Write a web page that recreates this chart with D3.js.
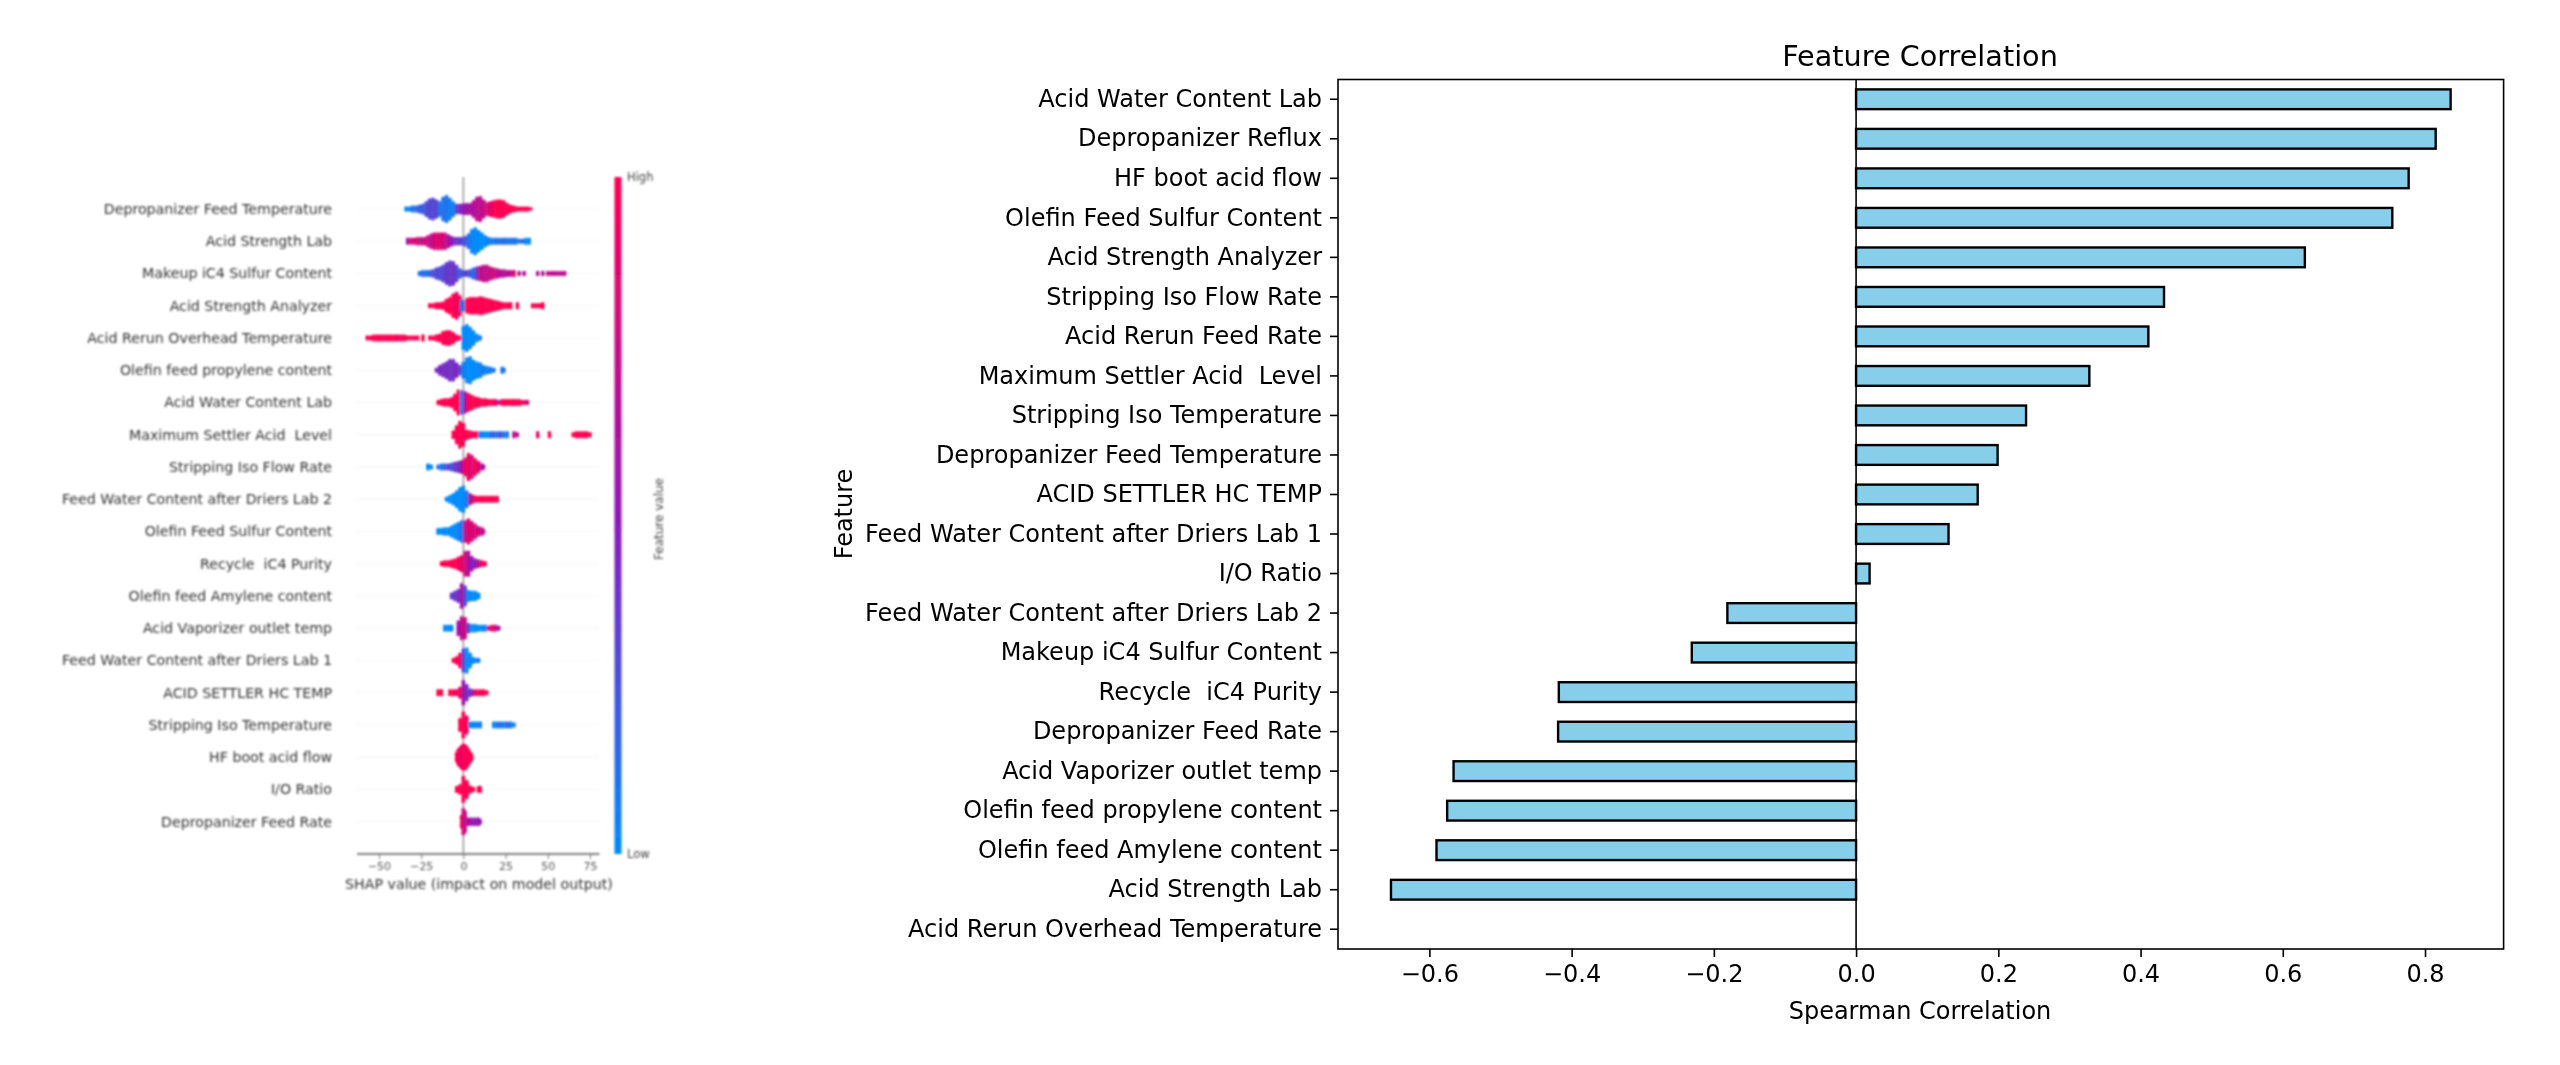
<!DOCTYPE html>
<html><head><meta charset="utf-8">
<script src="https://cdn.jsdelivr.net/npm/d3@7"></script>
<style>html,body{margin:0;background:#fff}svg{display:block}text{font-family:"DejaVu Sans",sans-serif;white-space:pre}</style>
</head><body><svg id="c" width="2560" height="1065"></svg>
<script>
// ---- Right chart data ----
const corrFeatures = ["Acid Water Content Lab","Depropanizer Reflux","HF boot acid flow","Olefin Feed Sulfur Content","Acid Strength Analyzer","Stripping Iso Flow Rate","Acid Rerun Feed Rate","Maximum Settler Acid  Level","Stripping Iso Temperature","Depropanizer Feed Temperature","ACID SETTLER HC TEMP","Feed Water Content after Driers Lab 1","I/O Ratio","Feed Water Content after Driers Lab 2","Makeup iC4 Sulfur Content","Recycle  iC4 Purity","Depropanizer Feed Rate","Acid Vaporizer outlet temp","Olefin feed propylene content","Olefin feed Amylene content","Acid Strength Lab","Acid Rerun Overhead Temperature"];
const corrValues = [0.836,0.815,0.777,0.754,0.631,0.433,0.411,0.328,0.239,0.199,0.171,0.130,0.019,-0.181,-0.231,-0.418,-0.419,-0.566,-0.575,-0.590,-0.654,0];
const corrTicks = [-0.6,-0.4,-0.2,0,0.2,0.4,0.6,0.8];

// ---- Left chart data: each entry is [SHAP value, stacked dots, feature value] ----
const shapFeatures = ["Depropanizer Feed Temperature","Acid Strength Lab","Makeup iC4 Sulfur Content","Acid Strength Analyzer","Acid Rerun Overhead Temperature","Olefin feed propylene content","Acid Water Content Lab","Maximum Settler Acid  Level","Stripping Iso Flow Rate","Feed Water Content after Driers Lab 2","Olefin Feed Sulfur Content","Recycle  iC4 Purity","Olefin feed Amylene content","Acid Vaporizer outlet temp","Feed Water Content after Driers Lab 1","ACID SETTLER HC TEMP","Stripping Iso Temperature","HF boot acid flow","I/O Ratio","Depropanizer Feed Rate"];
const shapTicks = [-50,-25,0,25,50,75];
const binsDepropTemp = [[-34,2,0],[-32,2,.05],[-30,3,.1],[-28,3,.15],[-26,4,.2],[-24,5,.2],[-22,8,.25],[-20,11,.3],[-18,12,.3],[-16,10,.3],[-14,8,.1],[-12,13,.1],[-10,15,.1],[-8,12,.05],[-6,8,.05],[-4,5,.3],[-2,5,.45],[0,6,.5],[2,6,.6],[4,6,.6],[6,9,.65],[8,13,.7],[10,14,.7],[12,10,.75],[14,7,.8],[16,8,.9],[18,9,.95],[20,10,1],[22,10,1],[24,9,1],[26,6,1],[28,4,1],[30,3,1],[32,2,1],[34,2,1],[36,2,1],[38,2,1],[40,1,1]];
const binsStrengthLab = [[-33,3,.6],[-31,3,.8],[-29,3,.85],[-27,4,.8],[-25,4,.7],[-23,4,.8],[-21,6,.75],[-19,8,.7],[-17,9,.85],[-15,9,.85],[-13,9,.85],[-11,9,.75],[-9,7,.65],[-7,5,.5],[-5,4,.4],[-3,4,.35],[-1,4,.3],[1,5,.25],[3,8,.1],[5,13,.05],[7,15,0],[9,12,0],[11,9,0],[13,6,0],[15,4,.05],[17,3,.05],[19,3,.1],[21,3,.1],[23,3,.15],[25,3,.1],[27,3,.1],[29,3,.1],[31,3,.1],[33,2,.1],[35,2,.15],[37,3,0],[39,3,0]];
const binsMakeup = [[-26,2,.1],[-24,3,.15],[-22,3,.1],[-20,3,.2],[-18,4,.25],[-16,6,.3],[-14,7,.25],[-12,9,.3],[-10,12,.35],[-8,14,.35],[-6,13,.4],[-4,9,.3],[-2,5,.2],[0,3,.3],[2,3,.3],[4,4,.2],[6,6,.15],[8,7,.4],[10,8,.7],[12,9,.75],[14,9,.7],[16,7,.75],[18,6,.8],[20,5,.7],[22,4,.65],[24,4,.7],[26,3,.65],[28,3,.7],[30,3,.85],[33,2,.7],[36,2,.65],[44,2,.7],[47,2,.6],[50,2,.75],[52,2,.7],[54,2,.7],[56,2,.7],[58,2,.7],[60,2,.7]];
const binsAnalyzer = [[-20,2,1],[-18,2,1],[-16,3,1],[-14,3,1],[-12,4,1],[-10,7,1],[-8,9,1],[-6,13,1],[-4,15,.95],[-2,11,.9],[-1,6,.2],[0,5,.1],[2,8,1],[4,9,1],[6,9,1],[8,9,1],[10,10,1],[12,9,1],[14,8,1],[16,7,1],[18,6,1],[20,5,1],[22,4,1],[24,3,1],[26,3,1],[28,3,1],[32,3,1],[41,2,1],[43,2,1],[45,2,1],[47,3,1]];
const binsRerunOverhead = [[-57,2,1],[-55,2,1],[-53,3,.95],[-51,3,1],[-49,3,1],[-47,3,.95],[-45,3,1],[-43,3,1],[-41,3,1],[-39,3,.95],[-37,3,1],[-35,3,1],[-33,2,1],[-31,2,1],[-29,2,.95],[-27,2,1],[-24,3,1],[-20,2,1],[-18,2,1],[-16,3,1],[-14,4,1],[-12,7,1],[-10,8,1],[-8,8,1],[-6,6,1],[-4,3,1],[-2,2,1],[0,13,0],[2,15,0],[4,12,0],[6,8,0],[8,4,0],[10,2,.1]];
const binsPropylene = [[-16,2,.4],[-14,5,.45],[-12,7,.4],[-10,9,.4],[-8,12,.4],[-6,12,.4],[-4,8,.45],[-2,5,.3],[0,9,.05],[2,14,0],[4,15,0],[6,11,0],[8,9,0],[10,8,.05],[12,5,.05],[14,4,.05],[16,3,.05],[18,2,.1],[23,3,.1],[24,2,.1]];
const binsWaterLab = [[-15,2,1],[-13,3,1],[-11,4,1],[-9,4,1],[-7,5,1],[-5,9,1],[-3,14,1],[-1,13,.1],[1,12,.6],[3,10,1],[5,8,1],[7,6,1],[9,5,1],[11,4,1],[13,4,1],[15,3,1],[17,3,1],[19,3,.9],[21,2,.7],[23,3,1],[25,3,1],[27,3,1],[29,3,1],[31,3,1],[33,3,1],[35,2,1],[37,2,.9],[38,2,.8]];
const binsSettlerLevel = [[-6,4,1],[-4,10,1],[-2,15,1],[0,13,1],[2,5,1],[4,4,1],[6,3,1],[8,3,1],[10,3,.05],[12,3,0],[14,3,0],[16,3,.1],[18,3,.2],[20,3,.1],[22,3,.3],[24,3,.1],[26,3,.05],[30,3,.7],[32,2,.7],[44,3,.9],[51,3,.95],[65,2,1],[67,3,1],[69,3,1],[71,3,1],[73,3,1],[75,2,1]];
const binsStripFlow = [[-21,3,0],[-19,2,0],[-15,2,.1],[-13,3,.1],[-11,3,.2],[-9,3,.3],[-7,4,.25],[-5,5,.35],[-3,6,.4],[-1,7,.6],[1,10,.9],[3,15,.95],[5,13,.8],[7,9,1],[9,6,.85],[11,3,.7],[12,2,.6]];
const binsWater2 = [[-10,2,0],[-8,4,0],[-6,6,0],[-4,9,0],[-2,13,0],[0,15,0],[2,9,.1],[4,6,.6],[6,4,.8],[8,3,1],[10,3,1],[12,3,1],[14,3,1],[16,3,1],[18,3,1],[20,3,1]];
const binsOlefinSulfur = [[-15,3,0],[-13,3,0],[-11,4,0],[-9,4,0],[-7,6,0],[-5,8,0],[-3,10,.05],[-1,12,.1],[1,12,.7],[3,14,.85],[5,11,.85],[7,8,.8],[9,5,.85],[11,4,.7],[12,2,.7]];
const binsRecycle = [[-13,2,1],[-11,3,1],[-9,3,1],[-7,4,1],[-5,5,1],[-3,7,.95],[-1,9,.9],[1,14,.8],[3,14,.6],[5,8,.5],[7,5,.5],[9,4,.7],[11,3,.95],[13,2,1]];
const binsAmylene = [[-7,3,.35],[-5,5,.35],[-3,7,.4],[-1,14,.6],[1,11,.3],[3,6,0],[5,5,0],[7,5,0],[9,3,0]];
const binsVaporizer = [[-11,3,0],[-9,3,0],[-7,3,0],[-3,8,.6],[-1,13,.7],[1,12,.75],[3,5,.3],[5,4,0],[7,4,0],[9,3,0],[11,3,0],[13,3,.05],[15,2,.7],[17,3,1],[19,3,.7],[21,2,.6]];
const binsWater1 = [[-6,2,1],[-4,4,1],[-2,8,.95],[0,13,.3],[2,14,0],[4,8,0],[6,3,0],[8,2,.05],[9,2,.05]];
const binsSettlerTemp = [[-15,3,1],[-13,3,1],[-8,3,1],[-6,3,1],[-4,3,1],[-2,6,.9],[0,14,.6],[2,9,.4],[4,4,.4],[6,3,.7],[8,3,1],[10,3,1],[12,3,1],[14,2,1]];
const binsStripTemp = [[-2,7,1],[0,15,1],[2,10,.95],[4,3,.05],[6,3,0],[8,3,.05],[10,3,.05],[18,3,0],[20,3,.1],[22,3,.1],[24,3,.05],[26,3,.15],[28,3,.05],[30,2,.05]];
const binsHfBoot = [[-4,5,1],[-3,9,1],[-2,11,.95],[-1,13,.9],[0,15,.95],[1,14,1],[2,12,.95],[3,9,1],[4,6,1],[5,3,1]];
const binsIoRatio = [[-4,3,1],[-2,5,1],[0,15,1],[2,10,1],[4,4,1],[6,2,1],[9,3,1],[10,3,1]];
const binsFeedRate = [[-1,7,1],[0,15,.8],[1,12,.75],[3,4,.6],[5,4,.55],[7,4,.55],[9,4,.55],[10,2,.5]];
const shapBins = [binsDepropTemp,binsStrengthLab,binsMakeup,binsAnalyzer,binsRerunOverhead,binsPropylene,binsWaterLab,binsSettlerLevel,binsStripFlow,binsWater2,binsOlefinSulfur,binsRecycle,binsAmylene,binsVaporizer,binsWater1,binsSettlerTemp,binsStripTemp,binsHfBoot,binsIoRatio,binsFeedRate];

const svg = d3.select("#c");
const defs = svg.append("defs");
defs.append("filter").attr("id","blurL").attr("x","-5%").attr("y","-5%").attr("width","110%").attr("height","110%")
  .append("feGaussianBlur").attr("stdDeviation",1.25);
defs.append("filter").attr("id","blurR").attr("x","-5%").attr("y","-5%").attr("width","110%").attr("height","110%")
  .append("feGaussianBlur").attr("stdDeviation",0.5);

// ---- Left: SHAP beeswarm ----
const L = svg.append("g").attr("filter","url(#blurL)");
const sx = d3.scaleLinear().domain([-50,75]).range([379,590]);
const sy = d3.scalePoint().domain(shapFeatures).range([209,821.7]);
const color = d3.scaleLinear().domain([0,.5,1]).range(["#008bfb","#8f17b8","#ff0051"]);
L.selectAll("line.grid").data(shapFeatures).join("line").attr("class","grid")
  .attr("x1",357).attr("x2",599.5).attr("y1",d=>sy(d)).attr("y2",d=>sy(d))
  .attr("stroke","#ccc").attr("stroke-width",.7).attr("stroke-dasharray","1 2").attr("opacity",.6);
L.append("line").attr("x1",sx(0)).attr("x2",sx(0)).attr("y1",177).attr("y2",854).attr("stroke","#999").attr("stroke-width",1.6);
const step = 1.75;
shapFeatures.forEach((f,i)=>{
  const dots = shapBins[i].flatMap(([v,n,c])=>d3.range(n).map(k=>({v,c,o:(k-(n-1)/2)*step})));
  L.append("g").selectAll("circle").data(dots).join("circle")
    .attr("cx",d=>sx(d.v)).attr("cy",d=>sy(f)+d.o).attr("r",1.9).attr("fill",d=>color(d.c));
});
L.selectAll("text.lab").data(shapFeatures).join("text").attr("class","lab")
  .attr("x",332).attr("y",d=>sy(d)).attr("dy",".35em").attr("text-anchor","end")
  .attr("font-size",14.2).attr("fill","#333").text(d=>d);
const sAxis = L.append("g").attr("transform","translate(0,854)")
  .call(d3.axisBottom(sx).tickValues(shapTicks).tickSize(5).tickFormat(d=>d3.format("d")(d).replace("-","\u2212")));
sAxis.select(".domain").attr("d","M357,0H599.5").attr("stroke","#555").attr("stroke-width",1.4);
sAxis.selectAll(".tick line").attr("stroke","#777");
sAxis.selectAll("text").attr("font-size",11).attr("fill","#555").attr("font-family","DejaVu Sans");
L.append("text").attr("x",479).attr("y",889).attr("text-anchor","middle").attr("font-size",14.2).attr("fill","#333").text("SHAP value (impact on model output)");
const grad = defs.append("linearGradient").attr("id","cb").attr("x1",0).attr("x2",0).attr("y1",1).attr("y2",0);
color.domain().forEach(d=>grad.append("stop").attr("offset",d).attr("stop-color",color(d)));
L.append("rect").attr("x",614.5).attr("y",177).attr("width",7).attr("height",677).attr("fill","url(#cb)");
L.append("text").attr("x",627).attr("y",181).attr("font-size",11.5).attr("fill","#444").text("High");
L.append("text").attr("x",627).attr("y",858).attr("font-size",11.5).attr("fill","#444").text("Low");
L.append("text").attr("transform","translate(659,519) rotate(-90)").attr("text-anchor","middle").attr("dy",".35em").attr("font-size",12).attr("fill","#444").text("Feature value");

// ---- Right: Spearman bars ----
const R = svg.append("g").attr("filter","url(#blurR)");
const x = d3.scaleLinear().domain([-0.7285,0.9105]).range([1338,2503.6]);
const y = d3.scaleBand().domain(corrFeatures).range([79.5,949]).paddingInner(.5).paddingOuter(.25);
R.selectAll("rect.bar").data(corrFeatures).join("rect").attr("class","bar")
  .attr("x",(d,i)=>Math.min(x(0),x(corrValues[i]))).attr("width",(d,i)=>Math.abs(x(corrValues[i])-x(0)))
  .attr("y",d=>y(d)).attr("height",y.bandwidth())
  .attr("fill","#87ceeb").attr("stroke","#000").attr("stroke-width",(d,i)=>corrValues[i]===0?0:2.4);
R.append("line").attr("x1",x(0)).attr("x2",x(0)).attr("y1",79.5).attr("y2",949).attr("stroke","#000").attr("stroke-width",1.6);
R.append("rect").attr("x",1338).attr("y",79.5).attr("width",1165.6).attr("height",869.5).attr("fill","none").attr("stroke","#000").attr("stroke-width",1.6);
const xAxis = R.append("g").attr("transform","translate(0,949)")
  .call(d3.axisBottom(x).tickValues(corrTicks).tickSize(8).tickPadding(8).tickFormat(d=>d3.format(".1f")(d).replace("-","\u2212")));
const yAxis = R.append("g").attr("transform","translate(1338,0)").call(d3.axisLeft(y).tickSize(8).tickPadding(8));
[xAxis,yAxis].forEach(a=>{
  a.select(".domain").remove();
  a.selectAll(".tick line").attr("stroke","#000").attr("stroke-width",1.6);
  a.selectAll("text").attr("font-size",24).attr("fill","#000").attr("font-family","DejaVu Sans");
});
R.append("text").attr("x",1920).attr("y",66).attr("text-anchor","middle").attr("font-size",28.7).attr("fill","#000").text("Feature Correlation");
R.append("text").attr("x",1920).attr("y",1019).attr("text-anchor","middle").attr("font-size",24).attr("fill","#000").text("Spearman Correlation");
R.append("text").attr("transform","translate(844,514) rotate(-90)").attr("text-anchor","middle").attr("dy",".35em").attr("font-size",24).attr("fill","#000").text("Feature");
</script></body></html>
